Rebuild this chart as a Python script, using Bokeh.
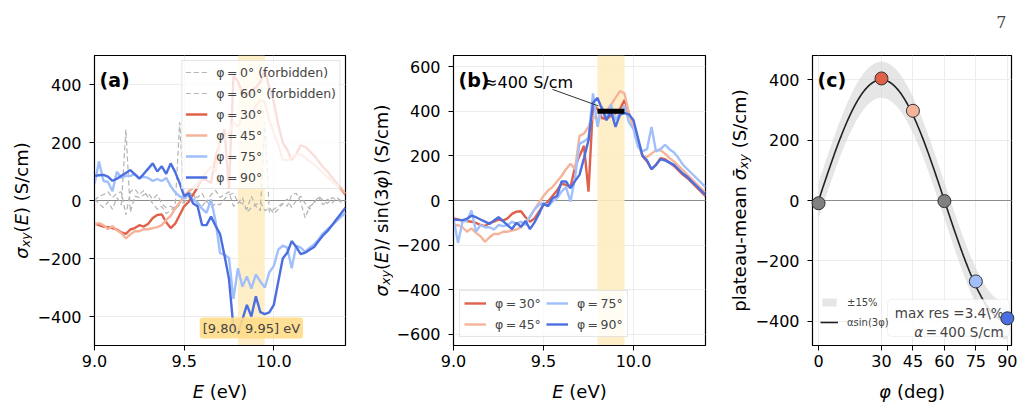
import math
import numpy as np
from bokeh.plotting import figure
from bokeh.layouts import row, column
from bokeh.models import (Label, Span, BoxAnnotation, Legend, LegendItem, FixedTicker,
                          CustomJSTickFormatter, ColumnDataSource)
from bokeh.embed import file_html
from bokeh.resources import INLINE

FONT = "DejaVu Sans"

# ---------------------------------------------------------------- data
energy_ev = [9.000, 9.025, 9.050, 9.075, 9.100, 9.125, 9.150, 9.175, 9.200, 9.225,
             9.250, 9.275, 9.300, 9.325, 9.350, 9.375, 9.400, 9.425, 9.450, 9.475,
             9.500, 9.525, 9.550, 9.575, 9.600, 9.625, 9.650, 9.675, 9.700, 9.725,
             9.750, 9.775, 9.800, 9.825, 9.850, 9.875, 9.900, 9.925, 9.950, 9.975,
             10.000, 10.025, 10.050, 10.075, 10.100, 10.125, 10.150, 10.175, 10.200, 10.225,
             10.250, 10.275, 10.300, 10.325, 10.350, 10.375, 10.400]

# sigma_xy(E) / sin(3 phi) for the symmetry-allowed angles (S/cm)
norm_30 = [-80, -85, -90, -92, -95, -100, -110, -115, -100, -95,
           -85, -90, -80, -60, -50, -48, -75, -95, -80, -50,
           -20, -5, 20, 45, 75, 70, 60, 150, 200, 245,
           40, 430, 410, 370, 365, 380, 390, 410, 450, 390,
           340, 260, 200, 175, 140, 160, 190, 185, 170, 155,
           135, 115, 100, 80, 60, 40, 20]
norm_45 = [-115, -110, -120, -140, -125, -145, -160, -185, -165, -150,
           -150, -140, -140, -135, -130, -120, -95, -75, -40, -10,
           20, 45, 60, 85, 110, 140, 165, 140, 290, 300,
           330, 380, 360, 410, 400, 430, 460, 490, 480, 390,
           330, 270, 200, 195, 210, 225, 225, 210, 190, 175,
           155, 135, 115, 95, 75, 55, 35]
norm_75 = [-80, -190, -95, -90, -45, -140, -110, -120, -120, -130,
           -110, -115, -110, -95, -105, -95, -110, -70, -40, -20,
           -10, -25, -5, 10, 40, 60, -5, 100, 255, 265,
           280, 480, 330, 420, 370, 430, 360, 395, 425, 350,
           320, 240, 220, 230, 330, 220, 230, 250, 230, 215,
           190, 160, 140, 120, 100, 80, 60]
norm_90 = [-85, -87, -88, -82, -68, -75, -85, -95, -105, -90,
           -75, -92, -110, -128, -100, -118, -92, -128, -98, -60,
           -15, -25, 10, 20, 85, 85, 55, 87, 115, 190,
           270, 438, 460, 410, 360, 400, 330, 385, 392, 386,
           360, 280, 200, 180, 140, 160, 185, 180, 170, 160,
           140, 120, 105, 85, 65, 45, 25]

# raw sigma_xy(E) for the symmetry-forbidden angles (S/cm)
sigma_0 = [5, -10, -25, -5, -30, 10, -15, 245, -40, 15,
           10, 20, 25, 5, 20, -10, -25, -20, -30, -15,
           -5, 10, 25, -15, -20, 0, -25, -10, -15, 5,
           20, 25, -5, -10, -30, 15, -20, -35, 270, -40,
           -30, -20, -10, 5, -25, 0, 15, -10, -30, -5,
           10, -15, 5, -10, 10, 0, -5]
sigma_60 = [0, 15, 20, 30, 10, 25, 30, -50, 30, 40,
            20, 35, 10, -10, -30, -20, -45, -35, -20, 270,
            -10, 30, 20, 10, 25, -5, 20, 35, 10, 20,
            30, -20, -10, 10, -40, -25, -15, -5, -35, -25,
            -45, -30, -10, -20, 20, 25, -5, -60, -20, -10,
            15, 0, -10, 10, 5, -5, 0]

allowed_phi = [30, 45, 75, 90]
allowed_norm = [norm_30, norm_45, norm_75, norm_90]
allowed_colors = ["#e0604a", "#f5b49a", "#a0bffb", "#4b6fe0"]

plateau_lo, plateau_hi = 9.80, 9.95
alpha_fit = 400          # S/cm
band_frac = 0.15
max_res_text = "max res =3.4\\%"

phi_deg = [0, 30, 45, 60, 75, 90]
plateau_mean = [-9, 404, 297, -2, -268, -390]
point_colors = ["#808080", "#e0604a", "#f5b49a", "#808080", "#a0bffb", "#4b6fe0"]

# ---------------------------------------------------------------- text helpers
EM = {" ": 0.318, "(": 0.390, ")": 0.390, "/": 0.337, "-": 0.361, ".": 0.318, ",": 0.318,
      "=": 0.838, "%": 0.950, "°": 0.500, "E": 0.632, "S": 0.635, "V": 0.684,
      "a": 0.613, "c": 0.550, "d": 0.635, "e": 0.615, "g": 0.635, "i": 0.278, "l": 0.278,
      "m": 0.974, "n": 0.634, "p": 0.635, "r": 0.411, "s": 0.521, "t": 0.392, "u": 0.634,
      "v": 0.592, "x": 0.592, "y": 0.592, "σ": 0.634, "φ": 0.686, "α": 0.659,
      "\u0304": 0.0, "\u2009": 0.2}
for d in "0123456789":
    EM[d] = 0.636


def run_width(text, size):
    return sum(EM.get(ch, 0.6) for ch in text) * size


def rich_label(p, runs, cx, cy, vertical):
    """Lay out styled text runs (text, size, style, drop) centred on (cx, cy), frame px."""
    total = sum(run_width(t, s) for t, s, _, _ in runs)
    offset = -total / 2
    for text, size, style, drop in runs:
        lead = len(text) - len(text.lstrip(" "))
        offset += run_width(" " * lead, size)
        body = text.lstrip(" ")
        if vertical:
            x, y = cx + drop, cy + offset
        else:
            x, y = cx + offset, cy - drop
        p.add_layout(Label(x=x, y=y, x_units="screen", y_units="screen", text=body,
                           angle=math.pi / 2 if vertical else 0.0, text_font=FONT,
                           text_font_size=f"{size}px", text_font_style=style,
                           text_align="left", text_baseline="alphabetic", text_color="black"))
        offset += run_width(body, size)


def strip(width, height):
    """Blank canvas that carries axis titles next to a panel."""
    s = figure(width=width, height=height, x_range=(0, width), y_range=(0, height),
               x_axis_type=None, y_axis_type=None, output_backend="svg",
               toolbar_location=None, min_border=0, min_border_left=0, min_border_right=0,
               min_border_top=0, min_border_bottom=0)
    s.outline_line_color = None
    s.background_fill_color = "white"
    s.border_fill_color = "white"
    return s


def panel_tag(p, tag):
    p.add_layout(Label(x=5, y=266, x_units="screen", y_units="screen", text=tag,
                       text_font=FONT, text_font_size="19px", text_font_style="bold",
                       text_baseline="alphabetic", text_color="black"))


MINUS_FMT = "return (tick < 0 ? '\\u2212' : '') + Math.abs(tick).toFixed(%d);"

TOTAL_H = 406
FRAME_H = 290
BOTTOM_B = 28
LBL, SUB, DROP = 18, 12.6, 4
XSTRIP_H = TOTAL_H - 55 - FRAME_H - BOTTOM_B
YLAB_CY = TOTAL_H - 200       # frame centre measured from the bottom of a full-height strip
XLAB_BASE = 15                # x-title baseline inside the bottom strip


def make_fig(width, height, top, left, right, x_range, y_range, xticks, yticks, xdec):
    p = figure(width=width, height=height, x_range=x_range, y_range=y_range,
               output_backend="svg", toolbar_location=None,
               min_border_left=left, min_border_right=right,
               min_border_top=top, min_border_bottom=height - top - FRAME_H)
    p.background_fill_color = "white"
    p.border_fill_color = "white"
    p.outline_line_color = "black"
    p.outline_line_width = 1.2
    p.xaxis.ticker = FixedTicker(ticks=xticks)
    p.yaxis.ticker = FixedTicker(ticks=yticks)
    p.xaxis.formatter = CustomJSTickFormatter(code=MINUS_FMT % xdec)
    p.yaxis.formatter = CustomJSTickFormatter(code=MINUS_FMT % 0)
    for ax in (p.xaxis, p.yaxis):
        ax.major_label_text_font = FONT
        ax.major_label_text_font_size = "16px"
        ax.major_label_text_color = "black"
        ax.major_tick_out = 5
        ax.major_tick_in = 0
        ax.minor_tick_out = 0
        ax.minor_tick_in = 0
        ax.axis_line_color = "black"
        ax.major_tick_line_color = "black"
    p.yaxis.major_label_standoff = 8
    p.xaxis.major_label_standoff = 4
    p.xgrid.grid_line_color = "#ececec"
    p.ygrid.grid_line_color = "#ececec"
    p.add_layout(Span(location=0, dimension="width", line_color="#8c8c8c",
                      line_width=1, level="underlay"))
    return p


def window_band(p):
    p.add_layout(BoxAnnotation(left=plateau_lo, right=plateau_hi, fill_color="#ffedc2",
                               fill_alpha=0.9, line_alpha=0, level="underlay"))


def phi_label(phi):
    return f"φ\u2009=\u2009{phi}°"


e_tick = [9.0, 9.5, 10.0]
sigma_runs = [("σ", LBL, "italic", 0), ("xy", SUB, "italic", DROP), ("(", LBL, "normal", 0),
              ("E", LBL, "italic", 0)]
e_title = [("E", LBL, "italic", 0), (" (eV)", LBL, "normal", 0)]
PANEL_H = 55 + FRAME_H + BOTTOM_B

# ---------------------------------------------------------------- panel (a)
pa = make_fig(328, PANEL_H, 55, 62, 15, (9.0, 10.4), (-500, 500), e_tick,
              [-400, -200, 0, 200, 400], 1)
window_band(pa)
items_a = []
for phi, sig in ((0, sigma_0), (60, sigma_60)):
    r = pa.line(energy_ev, sig, line_color="#b3b3b3", line_width=1.2, line_dash="5 3")
    items_a.append(LegendItem(label=phi_label(phi) + " (forbidden)", renderers=[r]))
for phi, nrm, col in zip(allowed_phi, allowed_norm, allowed_colors):
    s3 = math.sin(math.radians(3 * phi))
    r = pa.line(energy_ev, [v * s3 for v in nrm], line_color=col, line_width=2.4)
    items_a.append(LegendItem(label=phi_label(phi), renderers=[r]))
leg_a = Legend(items=items_a, location="top_right", margin=5, padding=3, spacing=5,
               label_text_font=FONT, label_text_font_size="12.5px",
               glyph_width=22, glyph_height=16, label_height=16, label_standoff=9,
               border_line_color="#cccccc", border_line_width=1,
               background_fill_color="white", background_fill_alpha=0.8)
pa.add_layout(leg_a)
pa.add_layout(Label(x=(plateau_lo + plateau_hi) / 2, y=-440,
                    text=f"[{plateau_lo:.2f}, {plateau_hi:.2f}] eV",
                    text_font=FONT, text_font_size="13px", text_align="center",
                    text_baseline="middle", background_fill_color="#ffdc88",
                    background_fill_alpha=0.9, padding=3, border_radius=3))
panel_tag(pa, "(a)")

ya = strip(32, TOTAL_H)
rich_label(ya, sigma_runs + [(")", LBL, "normal", 0), (" (S/cm)", LBL, "normal", 0)],
           20.5, YLAB_CY, True)
# the strip under a panel shares that panel's frame alignment
xa = strip(328, XSTRIP_H)
rich_label(xa, e_title, 251 / 2, XLAB_BASE, False)

# ---------------------------------------------------------------- panel (b)
pb = make_fig(327, PANEL_H, 55, 60, 15, (9.0, 10.4), (-650, 650), e_tick,
              [-600, -400, -200, 0, 200, 400, 600], 1)
window_band(pb)
items_b = []
for phi, nrm, col in zip(allowed_phi, allowed_norm, allowed_colors):
    r = pb.line(energy_ev, nrm, line_color=col, line_width=2.4)
    items_b.append(LegendItem(label=phi_label(phi), renderers=[r]))
pb.segment(x0=[plateau_lo], x1=[plateau_hi], y0=[alpha_fit], y1=[alpha_fit],
           line_color="black", line_width=5)
pb.segment(x0=[9.55], y0=[498], x1=[9.805], y1=[424], line_color="#333333", line_width=1)
pb.add_layout(Label(x=9.17, y=530, text=f"≈{alpha_fit} S/cm", text_font=FONT,
                    text_font_size="16px", text_baseline="alphabetic", text_color="black"))
leg_b = Legend(items=items_b, location=(6, 8), ncols=2, padding=4, spacing=5,
               label_text_font=FONT, label_text_font_size="12.5px",
               glyph_width=22, glyph_height=16, label_height=16, label_standoff=9,
               border_line_color="#cccccc", border_line_width=1,
               background_fill_color="white", background_fill_alpha=0.8)
pb.add_layout(leg_b)
panel_tag(pb, "(b)")

yb = strip(33, TOTAL_H)
rich_label(yb, sigma_runs + [(")/ sin(3", LBL, "normal", 0), ("φ", LBL, "italic", 0),
                             (") (S/cm)", LBL, "normal", 0)],
           20.5, YLAB_CY, True)
xb = strip(327, XSTRIP_H)
rich_label(xb, e_title, 252 / 2, XLAB_BASE, False)

# ---------------------------------------------------------------- panel (c)
TOP7_H = 40
pc = make_fig(275, PANEL_H - TOP7_H, 55 - TOP7_H, 60, 16, (-2.9, 92), (-480, 480),
              phi_deg, [-400, -200, 0, 200, 400], 0)
phi_fit = np.linspace(0, 90, 181)
fit = alpha_fit * np.sin(np.radians(3 * phi_fit))
r_band = pc.varea(x=phi_fit, y1=fit - band_frac * alpha_fit, y2=fit + band_frac * alpha_fit,
                  fill_color="#d6d6d6", fill_alpha=0.6)
r_fit = pc.line(phi_fit, fit, line_color="#222222", line_width=1.6)
pc.add_layout(BoxAnnotation(left=32.9, right=91.0, bottom=-450, top=-327,
                            fill_color="white", fill_alpha=0.85, line_color="#cccccc",
                            line_width=1, border_radius=4))
pc.add_layout(Label(x=88.2, y=-373, text=max_res_text, text_font=FONT,
                    text_font_size="13.5px", text_align="right", text_baseline="alphabetic"))
tail = f"\u2009=\u2009{alpha_fit} S/cm"
pc.add_layout(Label(x=88.2, y=-436, text=tail, text_font=FONT,
                    text_font_size="13.5px", text_align="right", text_baseline="alphabetic"))
pc.add_layout(Label(x=88.2, y=-436, x_offset=-run_width(tail, 13.5), text="α", text_font=FONT,
                    text_font_size="13.5px", text_font_style="italic",
                    text_align="right", text_baseline="alphabetic"))
src_c = ColumnDataSource(dict(phi=phi_deg, mean=plateau_mean, color=point_colors))
pc.scatter("phi", "mean", source=src_c, size=13, fill_color="color",
           line_color="#333333", line_width=1, level="overlay")
leg_c = Legend(items=[LegendItem(label=f"±{int(band_frac * 100)}%", renderers=[r_band]),
                      LegendItem(label="αsin(3φ)", renderers=[r_fit])],
               location=(3, 11), padding=5, spacing=6,
               label_text_font=FONT, label_text_font_size="10px",
               glyph_width=18, glyph_height=10, label_height=14, label_standoff=9,
               border_line_alpha=0, background_fill_alpha=0)
pc.add_layout(leg_c)
panel_tag(pc, "(c)")

yc = strip(32, TOTAL_H)
rich_label(yc, [("plateau-mean ", LBL, "normal", 0), ("σ\u0304", LBL, "italic", 0),
                ("xy", SUB, "italic", DROP), (" (S/cm)", LBL, "normal", 0)],
           18.5, YLAB_CY, True)
xc = strip(275, XSTRIP_H)
rich_label(xc, [("φ", LBL, "italic", 0), (" (deg)", LBL, "normal", 0)],
           199 / 2, XLAB_BASE, False)
# page number, right-aligned inside the strip's (panel-aligned) frame
top7 = strip(275, TOP7_H)
top7.add_layout(Label(x=194, y=TOP7_H - 21, x_units="screen", y_units="screen", text="7",
                      text_font="DejaVu Serif", text_font_size="16px",
                      text_align="right", text_baseline="alphabetic"))

layout = row(ya, column(pa, xa), yb, column(pb, xb), yc, column(top7, pc, xc))
open("out.html", "w").write(file_html(layout, INLINE))
